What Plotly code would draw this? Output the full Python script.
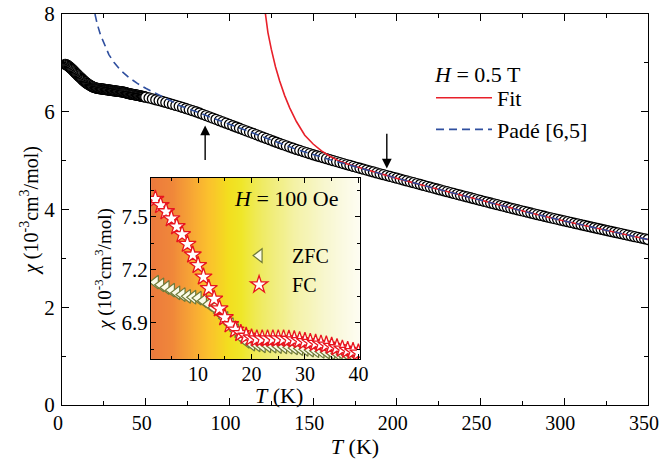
import plotly.graph_objects as go

# Magnetic susceptibility chi(T) at H = 0.5 T (units of 1e-3 cm^3/mol)
t_low = [2, 2.5, 3, 3.5, 4, 4.5, 5, 5.5, 6, 6.5, 7, 7.5, 8, 8.5, 9, 9.5, 10,
         10.5, 11, 11.5, 12, 12.5, 13, 13.5, 14, 14.5, 15, 15.5, 16, 16.5, 17,
         17.5, 18, 18.5, 19, 19.5, 20, 20.5, 21, 21.5, 22, 22.5, 23, 23.5, 24,
         24.5, 25, 25.5, 26, 26.5, 27, 27.5, 28, 28.5, 29, 29.5, 30, 30.5, 31,
         31.5, 32, 32.5, 33, 33.5, 34, 34.5, 35, 35.5, 36, 36.5, 37, 37.5, 38,
         38.5, 39, 39.5, 40, 40.5, 41, 41.5, 42, 42.5, 43, 43.5, 44, 44.5, 45,
         45.5, 46, 46.5, 47, 47.5, 48, 48.5, 49, 49.5, 50]
chi_low = [6.97, 6.965, 6.955, 6.943, 6.93, 6.915, 6.90, 6.885, 6.87, 6.853,
           6.835, 6.818, 6.80, 6.783, 6.765, 6.748, 6.73, 6.715, 6.70, 6.683,
           6.665, 6.65, 6.635, 6.62, 6.605, 6.592, 6.58, 6.567, 6.555, 6.545,
           6.535, 6.525, 6.515, 6.507, 6.50, 6.495, 6.49, 6.485, 6.48, 6.478,
           6.475, 6.472, 6.47, 6.468, 6.465, 6.462, 6.46, 6.458, 6.455, 6.452,
           6.45, 6.448, 6.445, 6.442, 6.44, 6.438, 6.435, 6.432, 6.43, 6.428,
           6.425, 6.422, 6.42, 6.418, 6.415, 6.412, 6.41, 6.408, 6.405, 6.402,
           6.40, 6.395, 6.39, 6.385, 6.38, 6.375, 6.37, 6.366, 6.363, 6.36,
           6.357, 6.354, 6.351, 6.348, 6.345, 6.342, 6.338, 6.334, 6.33, 6.326,
           6.322, 6.318, 6.315, 6.312, 6.308, 6.304, 6.30]

t_high = [52, 54, 56, 58, 60, 62, 64, 66, 68, 70, 72, 74, 76, 78, 80, 82, 84,
          86, 88, 90, 92, 94, 96, 98, 100, 102, 104, 106, 108, 110, 112, 114,
          116, 118, 120, 122, 124, 126, 128, 130, 132, 134, 136, 138, 140, 142,
          144, 146, 148, 150, 152, 154, 156, 158, 160, 162, 164, 166, 168, 170,
          172, 174, 176, 178, 180, 182, 184, 186, 188, 190, 192, 194, 196, 198,
          200, 202, 204, 206, 208, 210, 212, 214, 216, 218, 220, 222, 224, 226,
          228, 230, 232, 234, 236, 238, 240, 242, 244, 246, 248, 250, 252, 254,
          256, 258, 260, 262, 264, 266, 268, 270, 272, 274, 276, 278, 280, 282,
          284, 286, 288, 290, 292, 294, 296, 298, 300, 302, 304, 306, 308, 310,
          312, 314, 316, 318, 320, 322, 324, 326, 328, 330, 332, 334, 336, 338,
          340, 342, 344, 346, 348, 350]
chi_high = [6.282, 6.264, 6.246, 6.228, 6.21, 6.19, 6.17, 6.15, 6.13, 6.11,
            6.088, 6.066, 6.044, 6.022, 6.00, 5.974, 5.948, 5.922, 5.896, 5.87,
            5.844, 5.818, 5.792, 5.766, 5.74, 5.714, 5.688, 5.662, 5.636, 5.61,
            5.584, 5.558, 5.532, 5.506, 5.48, 5.454, 5.428, 5.402, 5.376, 5.35,
            5.326, 5.302, 5.278, 5.254, 5.23, 5.208, 5.186, 5.164, 5.142, 5.12,
            5.10, 5.08, 5.06, 5.04, 5.02, 5.00, 4.98, 4.96, 4.94, 4.92,
            4.901, 4.882, 4.863, 4.844, 4.825, 4.806, 4.787, 4.768, 4.749, 4.73,
            4.712, 4.694, 4.676, 4.658, 4.64, 4.622, 4.603, 4.585, 4.566, 4.548,
            4.530, 4.511, 4.493, 4.474, 4.456, 4.438, 4.419, 4.401, 4.383, 4.365,
            4.347, 4.329, 4.311, 4.293, 4.275, 4.257, 4.240, 4.222, 4.204, 4.186,
            4.168, 4.151, 4.133, 4.116, 4.098, 4.081, 4.064, 4.046, 4.029, 4.012,
            3.995, 3.978, 3.962, 3.945, 3.928, 3.912, 3.895, 3.879, 3.862, 3.846,
            3.830, 3.814, 3.798, 3.782, 3.766, 3.750, 3.735, 3.719, 3.704, 3.688,
            3.673, 3.657, 3.642, 3.627, 3.611, 3.596, 3.581, 3.565, 3.550, 3.535,
            3.520, 3.505, 3.490, 3.475, 3.460, 3.445, 3.431, 3.416, 3.401, 3.386]

# Fit curve
t_fit = [121.5, 123, 125, 127.5, 130, 133, 136, 140, 145, 150, 155, 160, 165,
         170, 180, 190, 200, 220, 250, 280, 300, 320, 350]
chi_fit = [8.0, 7.62, 7.28, 6.92, 6.63, 6.33, 6.08, 5.80, 5.52, 5.34, 5.20,
           5.09, 5.00, 4.935, 4.835, 4.728, 4.637, 4.456, 4.186, 3.928, 3.766,
           3.611, 3.386]

# Pade [6,5] approximant
t_pade = [19.7, 21, 23, 25, 28, 31, 35, 40, 45, 50, 55, 60, 65, 70, 80, 90,
          100, 120, 140, 160, 180, 200, 220, 250, 280, 300, 320, 350]
chi_pade = [8.0, 7.80, 7.57, 7.40, 7.17, 7.01, 6.85, 6.70, 6.58, 6.48, 6.40,
            6.31, 6.225, 6.13, 6.00, 5.87, 5.74, 5.48, 5.23, 5.02, 4.825, 4.64,
            4.456, 4.186, 3.928, 3.766, 3.611, 3.386]

# Low-field (100 Oe) ZFC / FC curves
t_inset = [2, 3, 4, 5, 6, 7, 8, 9, 10, 11, 12, 13, 14, 15, 16, 17, 18, 19, 20,
           21, 22, 23, 24, 25, 26, 27, 28, 29, 30, 31, 32, 33, 34, 35, 36, 37,
           38, 39, 40]
chi_zfc = [7.13, 7.115, 7.10, 7.085, 7.07, 7.06, 7.05, 7.045, 7.04, 7.025,
           7.005, 6.985, 6.955, 6.925, 6.89, 6.855, 6.82, 6.795, 6.78, 6.775,
           6.77, 6.77, 6.768, 6.766, 6.764, 6.762, 6.758, 6.754, 6.75, 6.746,
           6.742, 6.738, 6.734, 6.73, 6.726, 6.722, 6.717, 6.712, 6.707]
chi_fc = [7.60, 7.565, 7.53, 7.49, 7.445, 7.40, 7.345, 7.285, 7.225, 7.16,
          7.095, 7.035, 6.98, 6.93, 6.89, 6.86, 6.84, 6.825, 6.815, 6.81, 6.81,
          6.81, 6.81, 6.81, 6.81, 6.808, 6.805, 6.80, 6.795, 6.79, 6.785, 6.78,
          6.775, 6.768, 6.76, 6.752, 6.745, 6.738, 6.73]

INSET_X = [1.2, 40.3]
INSET_Y = [6.695, 7.72]

FONT = "'Liberation Serif', 'Times New Roman', serif"
RED = "#e8202a"
BLUE = "#2f4f9f"
CHI_TITLE = "<i>χ</i> (10<sup>-3</sup>cm<sup>3</sup>/mol)"

fig = go.Figure()

# gradient backdrop of the inset (orange -> yellow -> white)
bg_x = [INSET_X[0] + i * (INSET_X[1] - INSET_X[0]) / 40 for i in range(41)]
fig.add_trace(go.Heatmap(
    x=bg_x, y=INSET_Y, z=[bg_x, bg_x], zsmooth="best",
    zmin=INSET_X[0], zmax=INSET_X[1], showscale=False, hoverinfo="skip",
    colorscale=[[0.0, "#ec7a3c"], [0.10, "#f0883a"], [0.20, "#f8aa34"],
                [0.276, "#fbc22d"], [0.366, "#f3de1f"], [0.43, "#efe72a"],
                [0.53, "#efeb66"], [0.685, "#f4f2a6"], [0.84, "#f8f7d2"],
                [1.0, "#fefdf4"]],
    xaxis="x2", yaxis="y2", showlegend=False))

circle = dict(symbol="circle", size=10, color="white",
              line=dict(color="black", width=1.3))
fig.add_trace(go.Scatter(x=t_low, y=chi_low, mode="markers", marker=circle,
                         showlegend=False))
fig.add_trace(go.Scatter(x=t_high, y=chi_high, mode="markers", marker=circle,
                         showlegend=False))
fig.add_trace(go.Scatter(x=t_fit, y=chi_fit, mode="lines", name="Fit",
                         line=dict(color=RED, width=1.6)))
fig.add_trace(go.Scatter(x=t_pade, y=chi_pade, mode="lines", name="Padé [6,5]",
                         line=dict(color=BLUE, width=1.6, dash="8px,5px")))

fig.add_trace(go.Scatter(
    x=t_inset, y=chi_zfc, mode="markers", name="ZFC", xaxis="x2", yaxis="y2",
    legend="legend2",
    marker=dict(symbol="triangle-left", size=12, color="#fbfbe8",
                line=dict(color="#6f7a38", width=1.2))))
fig.add_trace(go.Scatter(
    x=t_inset, y=chi_fc, mode="markers", name="FC", xaxis="x2", yaxis="y2",
    legend="legend2",
    marker=dict(symbol="star", size=13, color="white",
                line=dict(color="#e8141e", width=1.3))))

axis_common = dict(showline=True, linecolor="black", linewidth=1,
                   mirror="ticks", ticks="inside", tickcolor="black",
                   showgrid=False, zeroline=False, automargin=False,
                   ticklabeloverflow="allow")
tick21 = dict(family=FONT, size=21, color="black")
tick20 = dict(family=FONT, size=20, color="black")

fig.update_layout(
    width=659, height=462,
    margin=dict(l=62, r=11, t=14, b=57),
    paper_bgcolor="white", plot_bgcolor="white",
    font=dict(family=FONT, size=21, color="black"),
    xaxis=dict(range=[0, 350], dtick=50, ticklen=7, ticklabelshift=-4,
               tickfont=tick20,
               minor=dict(dtick=25, ticklen=4, ticks="inside",
                          tickcolor="black"),
               title=dict(text="<i>T</i> (K)", standoff=0,
                          font=dict(family=FONT, size=22)),
               **axis_common),
    yaxis=dict(range=[0, 8], dtick=2, ticklen=7, ticklabelstandoff=2,
               tickfont=tick21,
               minor=dict(dtick=1, ticklen=4, ticks="inside",
                          tickcolor="black"),
               title=dict(text=CHI_TITLE, standoff=0,
                          font=dict(family=FONT, size=20)),
               **axis_common),
    xaxis2=dict(domain=[0.152, 0.5085], anchor="y2", range=INSET_X,
                tickvals=[10, 20, 30, 40], ticklen=5, ticklabelstandoff=-3,
                tickfont=tick20,
                minor=dict(dtick=5, ticklen=3, ticks="inside",
                           tickcolor="black"),
                **axis_common),
    yaxis2=dict(domain=[0.1176, 0.5806], anchor="x2", range=INSET_Y,
                tickvals=[6.9, 7.2, 7.5], ticklen=5, ticklabelstandoff=-2,
                tickfont=tick21,
                minor=dict(tickvals=[6.75, 7.05, 7.35, 7.65], ticklen=3,
                           ticks="inside", tickcolor="black"),
                title=dict(text=CHI_TITLE, standoff=4,
                           font=dict(family=FONT, size=19)),
                **axis_common),
    legend=dict(x=0.6297, y=0.839, xanchor="left", yanchor="top",
                bgcolor="rgba(0,0,0,0)", itemwidth=56,
                font=dict(family=FONT, size=22)),
    legend2=dict(x=0.28, y=0.432, xanchor="left", yanchor="top",
                 bgcolor="rgba(0,0,0,0)", itemwidth=56,
                 font=dict(family=FONT, size=20)),
    annotations=[
        dict(text="<i>H</i> = 0.5 T", x=0.6314, y=0.844, xref="paper",
             yref="paper", xanchor="left", yanchor="middle", showarrow=False,
             font=dict(family=FONT, size=22)),
        dict(text="<i>H</i> = 100 Oe", x=0.383, y=0.528, xref="paper",
             yref="paper", showarrow=False, font=dict(family=FONT, size=22)),
        dict(text="<i>T</i> (K)", x=0.37, y=0.025, xref="paper",
             yref="paper", xanchor="center", yanchor="middle",
             showarrow=False, font=dict(family=FONT, size=22)),
        dict(x=85.5, y=5.72, ax=85.5, ay=4.98, xref="x", yref="y",
             axref="x", ayref="y", text="", showarrow=True, arrowhead=2,
             arrowsize=1.4, arrowwidth=1.4, arrowcolor="black"),
        dict(x=194, y=4.84, ax=194, ay=5.58, xref="x", yref="y",
             axref="x", ayref="y", text="", showarrow=True, arrowhead=2,
             arrowsize=1.4, arrowwidth=1.4, arrowcolor="black"),
    ],
)

fig.write_html("out.html")
